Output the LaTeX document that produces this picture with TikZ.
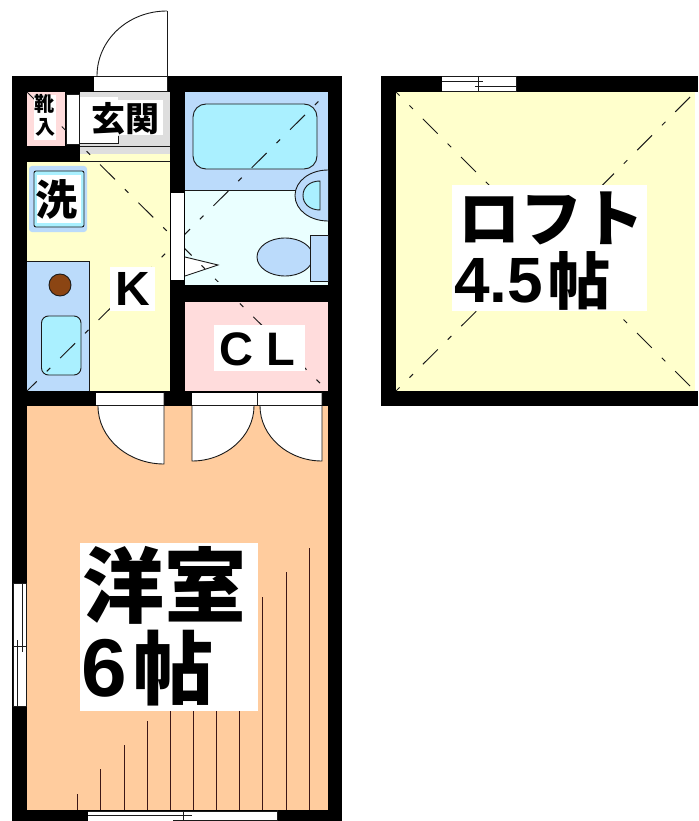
\documentclass[tikz,border=0pt]{standalone}
\usepackage{fontspec}
\newfontfamily\cjk{Noto Sans CJK JP}
\newfontfamily\lat{Liberation Sans}
\definecolor{yel}{HTML}{FFFFCC}
\definecolor{ora}{HTML}{FFCC9E}
\definecolor{pnk}{HTML}{FFDCDC}
\definecolor{blu}{HTML}{BBDBFB}
\definecolor{lgt}{HTML}{EAFFFF}
\definecolor{tub}{HTML}{AAF0FF}
\definecolor{gry}{HTML}{DEDEDE}
\definecolor{brn}{HTML}{8B4513}
\definecolor{ink}{HTML}{1A1A1A}
\tikzset{
  thin line/.style={draw=ink,line width=0.9pt},
  dia/.style={draw=ink,line width=1pt,dash pattern=on 21pt off 14pt on 5pt off 14pt},
  floor line/.style={draw=ink!85!red,line width=1pt},
  label/.style={inner sep=0pt,anchor=west,text=black},
}
\newcommand{\cjkfs}[1]{\fontsize{#1}{#1}\selectfont\cjk\bfseries}
\newcommand{\latfs}[1]{\fontsize{#1}{#1}\selectfont\lat\bfseries}
\begin{document}
\begin{tikzpicture}[x=1pt,y=-1pt]
\useasboundingbox (0,0) rectangle (698,821);
\fill[white] (0,0) rectangle (698,821);
% black masses
\fill[black] (12,76) rectangle (342,821);
\fill[black] (381,76) rectangle (698,406);
\fill[white] (695,92) rectangle (698,391);
% room floors
\fill[ora] (27,406) rectangle (328,810);
\fill[yel] (27,162) rectangle (170,391);
\fill[gry] (80,92) rectangle (170,154);
\fill[yel] (80,154) rectangle (170,162);
\fill[pnk] (27,92) rectangle (65,146);
\fill[blu] (185,92) rectangle (328,190);
\fill[lgt] (185,190) rectangle (328,286);
\fill[pnk] (185,302) rectangle (328,391);
\fill[yel] (396,92) rectangle (695,391);
% bath fixtures
\draw[thin line,fill=tub,rounded corners=13pt] (193,104) rectangle (317,169);
\draw[thin line] (185,190) -- (296,190);
\fill[blu] (328,170) .. controls (310,170) and (295,181) .. (295,195.5) .. controls (295,210) and (310,221) .. (328,221) -- cycle;
\draw[thin line] (328,170) .. controls (310,170) and (295,181) .. (295,195.5) .. controls (295,210) and (310,221) .. (328,221);
\draw[thin line,fill=tub] (320,181) .. controls (310,181) and (303,187) .. (303,195.5) .. controls (303,204) and (310,210) .. (320,210) -- cycle;
\draw[thin line,fill=blu] (285,257) ellipse [x radius=28pt,y radius=19pt];
\draw[thin line,fill=blu] (310.5,235) rectangle (328,281.5);
\draw[thin line,fill=white] (185,257) -- (218,265) -- (185,276);
% kitchen unit
\fill[blu] (27,261) rectangle (89,391);
\draw[thin line] (89,261) -- (89,391);
\draw[thin line] (27,261) -- (89,261);
\draw[thin line,fill=brn] (60,285) circle (11pt);
\draw[thin line,fill=tub,rounded corners=7pt] (41.5,316) rectangle (81,375);
% dashed diagonals of the upper rooms
\draw[dia,dash phase=21.5pt] (328,92) -- (27,391);
\draw[dia,dash phase=5pt] (27,92) -- (328,391);
% loft diagonals
\draw[dia,dash phase=16pt] (396,92) -- (546,242);
\draw[dia,dash phase=47pt] (695,92) -- (546,242);
\draw[dia,dash phase=16pt] (396,391) -- (546,242);
\draw[dia,dash phase=47pt] (695,391) -- (546,242);
% wall cover over diagonals
\fill[black] (27,146) rectangle (80,162);
\fill[black] (170,76) rectangle (185,406);
\fill[black] (170,282) rectangle (342,302);
\fill[lgt] (185,282) rectangle (328,285);
\fill[black] (12,391) rectangle (342,406);
% entrance door
\fill[white] (94,77) rectangle (168,91);
\draw[thin line] (94,91) -- (168,91);
\draw[thin line] (94,76) -- (168,76);
\draw[thin line] (167,11) -- (167,91);
\draw[thin line] (97,76) .. controls (97,40) and (128,11) .. (167,11);
% genkan
\fill[white] (80,100) rectangle (163,135);
\fill[white] (80,97) rectangle (118,143);
\draw[thin line] (80,143) -- (118,143) -- (118,136);
\draw[thin line] (80,146) -- (170,146);
\draw[thin line] (80,161.5) -- (170,161.5);
\draw[thin line,fill=white] (66,94) rectangle (79,144);
% washer
\fill[blu,rounded corners=3pt] (29,166) rectangle (87,232);
\draw[thin line,fill=tub,rounded corners=2pt] (34,171) rectangle (84,227);
\fill[white] (37,175) rectangle (81,223);
% bath door
\fill[white] (171,193) rectangle (184,280);
% doors into the room
\fill[white] (96,393) rectangle (164,405);
\fill[white] (192,393) rectangle (322,405);
\draw[thin line] (96,405.5) -- (164,405.5);
\draw[thin line] (192,405.5) -- (322,405.5);
\draw[thin line] (257,392) -- (257,405);
\fill[white] (98,406) .. controls (98,438) and (128,464) .. (164,464) -- (164,406) -- cycle;
\fill[white] (254,406) .. controls (254,436) and (226,461) .. (192,461) -- (192,406) -- cycle;
\fill[white] (260,406) .. controls (260,436) and (288,461) .. (322,461) -- (322,406) -- cycle;
\draw[thin line] (98,406) .. controls (98,438) and (128,464) .. (164,464) -- (164,392);
\draw[thin line] (254,406) .. controls (254,436) and (226,461) .. (192,461) -- (192,406);
\draw[thin line] (260,406) .. controls (260,436) and (288,461) .. (322,461) -- (322,392);
% flooring lines
\foreach \x/\t in {77/794,100/769,124/745,147/721,170/711,193/711,216/711,239/711,262/597,286/572,309/548}
  \draw[floor line] (\x,\t) -- (\x,810);
% windows
\fill[white] (13,583) rectangle (27,706);
\draw[thin line] (13,583) -- (27,583);
\draw[thin line] (13,706) -- (27,706);
\draw[thin line] (13,583) -- (13,706);
\draw[thin line] (26.5,583) -- (26.5,706);
\draw[thin line] (22,583) -- (22,652);
\draw[thin line] (17,640) -- (17,706);
\draw[thin line] (13,646) -- (27,646);
\fill[white] (88,811) rectangle (277,821);
\draw[thin line] (88,811.5) -- (277,811.5);
\draw[thin line] (88,815.5) -- (192,815.5);
\draw[thin line] (173,820) -- (277,820);
\draw[thin line] (183,811) -- (183,821);
\draw[thin line] (277,810) -- (277,821);
\fill[white] (442,76) rectangle (517,91);
\draw[thin line] (442,81) -- (483,81);
\draw[thin line] (475,86) -- (516,86);
\draw[thin line] (442,91.5) -- (516,91.5);
\draw[thin line] (442,76) -- (516,76);
\draw[thin line] (478,76) -- (478,92);
\draw[thin line] (516,76) -- (516,92);
% label backings
\fill[white] (34,95) rectangle (56,140);
\fill[white] (110,267) rectangle (155,311);
\fill[white] (214,325) rectangle (305,371);
\fill[white] (80,543) rectangle (258,711);
\fill[white] (452,185) rectangle (647,311);
% labels
\node[label] (kutsu) at (34,104) {\cjkfs{20}靴};
\node[label] (iri) at (35,127) {\cjkfs{20}入};
\node[label] (genkan) at (91,119) {\cjkfs{34}玄関};
\node[label] (sen) at (35,199) {\cjkfs{42}洗};
\node[label] (k) at (115,289) {\latfs{48}K};
\node[label] (cl) at (219,349) {\latfs{47}C};
\node[label] (cl2) at (266,349) {\latfs{47}L};
\node[label] (yoshitsu) at (82,585) {\cjkfs{82}洋室};
\node[label] (six) at (81,668) {\latfs{82}6};
\node[label] (jo1) at (133,668) {\cjkfs{80}帖};
\node[label] (loft) at (458,218) {\cjkfs{62}ロフト};
\node[label] (num) at (454,281) {\latfs{64}4.5};
\node[label] (jo2) at (548,281) {\cjkfs{62}帖};
\end{tikzpicture}
\end{document}
